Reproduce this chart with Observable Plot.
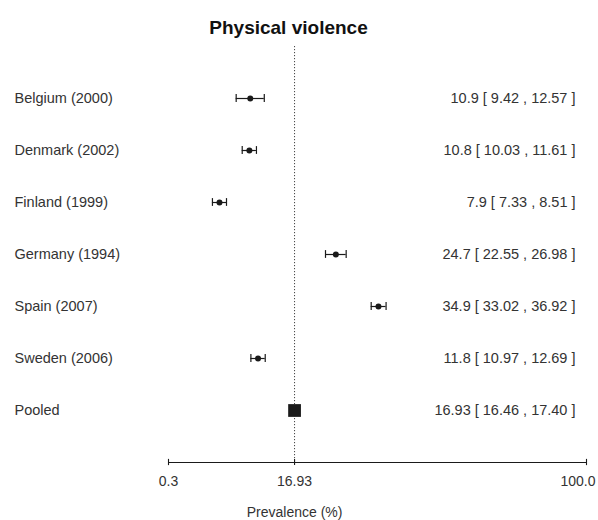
<!DOCTYPE html>
<html>
<head>
<meta charset="utf-8">
<script src="https://cdn.jsdelivr.net/npm/d3@7"></script>
<script src="https://cdn.jsdelivr.net/npm/@observablehq/plot@0.6"></script>
<style>
  html, body { margin: 0; padding: 0; background: #fff; }
</style>
</head>
<body>
<div id="chart"></div>
<script>
// ---- data (prevalence, %) ----
const studies = ["Belgium (2000)", "Denmark (2002)", "Finland (1999)", "Germany (1994)", "Spain (2007)", "Sweden (2006)"];
const estimates = [10.9, 10.8, 7.9, 24.7, 34.9, 11.8];
const lowerCI = [9.42, 10.03, 7.33, 22.55, 33.02, 10.97];
const upperCI = [12.57, 11.61, 8.51, 26.98, 36.92, 12.69];
const pooledLabel = "Pooled";
const pooledEst = 16.93;
const pooledLower = 16.46;
const pooledUpper = 17.40;
// axis ticks: positions on the (logit) prevalence axis and their printed labels
const axisTickValues = [4.55, 16.93, 85.5];
const axisTickLabels = ["0.3", "16.93", "100.0"];
const titleText = "Physical violence";
const xLabel = "Prevalence (%)";

// ---- derived ----
const logit = p => Math.log((p / 100) / (1 - p / 100));
const fmtEst = v => String(v);
const rows = studies.map((s, i) => ({
  label: s, est: estimates[i], lo: lowerCI[i], hi: upperCI[i], row: i,
  text: `${fmtEst(estimates[i])} [ ${lowerCI[i].toFixed(2)} , ${upperCI[i].toFixed(2)} ]`
}));
const pooledRow = {
  label: pooledLabel, est: pooledEst, lo: pooledLower, hi: pooledUpper, row: studies.length,
  text: `${pooledEst.toFixed(2)} [ ${pooledLower.toFixed(2)} , ${pooledUpper.toFixed(2)} ]`
};
const allRows = [...rows, pooledRow];
const axisRow = studies.length + 1;
const ticks = axisTickValues.map((v, i) => ({v, label: axisTickLabels[i], last: i === axisTickValues.length - 1}));
const xDomain = [logit(axisTickValues[0]), logit(axisTickValues[axisTickValues.length - 1])];

const ink = "#1a1a1a";
const textInk = "#333";
const font = "'Liberation Sans', Arial, Helvetica, sans-serif";

const chart = Plot.plot({
  width: 598,
  height: 520,
  marginLeft: 168,
  marginRight: 12,
  marginTop: 46,
  marginBottom: 58,
  style: {fontFamily: font, background: "#fff", color: textInk},
  x: {type: "linear", domain: xDomain, axis: null},
  y: {type: "linear", domain: [-1, axisRow], reverse: true, axis: null},
  marks: [
    // reference line at pooled estimate
    Plot.ruleX([pooledEst], {x: d => logit(d), y1: -1, y2: axisRow, stroke: "#444", strokeWidth: 1, strokeDasharray: "1.2,1.8"}),
    // x axis line
    Plot.ruleY([axisRow], {x1: xDomain[0], x2: xDomain[1], stroke: ink, strokeWidth: 1.1}),
    // axis ticks
    Plot.ruleX(ticks, {x: d => logit(d.v), y1: axisRow - 0.06, y2: axisRow + 0.06, stroke: ink, strokeWidth: 1.1}),
    // tick labels
    Plot.text(ticks.filter(d => !d.last), {x: d => logit(d.v), y: axisRow, dy: 19, text: "label", fontSize: 14, fill: textInk}),
    Plot.text(ticks.filter(d => d.last), {x: d => logit(d.v), y: axisRow, dy: 19, dx: 9, textAnchor: "end", text: "label", fontSize: 14, fill: textInk}),
    // axis title
    Plot.text([xLabel], {x: logit(pooledEst), y: axisRow, dy: 50, text: d => d, fontSize: 14, fill: textInk}),
    // confidence intervals
    Plot.ruleY(rows, {y: "row", x1: d => logit(d.lo), x2: d => logit(d.hi), stroke: ink, strokeWidth: 1.2}),
    Plot.ruleX(rows, {x: d => logit(d.lo), y1: d => d.row - 0.075, y2: d => d.row + 0.075, stroke: ink, strokeWidth: 1.2}),
    Plot.ruleX(rows, {x: d => logit(d.hi), y1: d => d.row - 0.075, y2: d => d.row + 0.075, stroke: ink, strokeWidth: 1.2}),
    // point estimates
    Plot.dot(rows, {x: d => logit(d.est), y: "row", r: 3, fill: ink, stroke: "none"}),
    // pooled estimate
    Plot.ruleY([pooledRow], {y: "row", x1: d => logit(d.lo), x2: d => logit(d.hi), stroke: ink}),
    Plot.dot([pooledRow], {x: d => logit(d.est), y: "row", symbol: "square", r: 7.2, fill: ink, stroke: "none"}),
    // left labels
    Plot.text(allRows, {y: "row", text: "label", frameAnchor: "left", dx: -154, textAnchor: "start", fontSize: 14.5, fill: textInk}),
    // right labels
    Plot.text(allRows, {y: "row", text: "text", frameAnchor: "right", dx: -11, textAnchor: "end", fontSize: 14.5, fill: textInk}),
    // title
    Plot.text([titleText], {frameAnchor: "top-left", dx: 120, dy: -26, text: d => d, fontSize: 19, fontWeight: "bold", textAnchor: "middle", fill: "#111"})
  ]
});
document.getElementById("chart").appendChild(chart);
</script>
</body>
</html>
